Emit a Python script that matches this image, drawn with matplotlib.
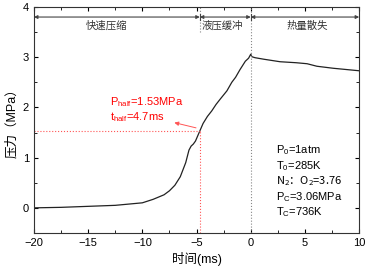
import matplotlib
matplotlib.use('Agg')
import matplotlib.pyplot as plt
from matplotlib.ticker import MultipleLocator

plt.rcParams['font.family'] = ['Liberation Sans', 'Noto Sans CJK SC', 'DejaVu Sans']
plt.rcParams['mathtext.default'] = 'regular'

# pressure trace
t = [-20, -17.5, -15, -12.5, -12, -10, -9, -8, -7.5, -7, -6.5, -6, -5.7, -5.5,
     -5.3, -5.1, -4.7, -4.4, -4.0, -3.6, -3.2, -2.8, -2.5, -2.2, -1.75, -1.4,
     -1.0, -0.5, -0.2, 0, 0.1, 0.4, 1.2, 2.7, 4.2, 5.2, 6.1, 7.6, 10]
p = [0, 0.01, 0.03, 0.05, 0.06, 0.1, 0.17, 0.26, 0.34, 0.45, 0.62, 0.9, 1.15, 1.23,
     1.27, 1.33, 1.53, 1.68, 1.82, 1.93, 2.06, 2.17, 2.25, 2.33, 2.5, 2.6,
     2.75, 2.92, 2.98, 3.06, 3.01, 2.99, 2.96, 2.91, 2.89, 2.87, 2.82, 2.78, 2.73]

t_half = -4.7
p_half = 1.53
stage_edges = [-20, -4.7, 0, 10]
stage_names = ['快速压缩', '液压缓冲', '热量散失']
stage_text_x = [-13.3, -2.6, 5.2]
cond_lines = ['P$_0$=1atm', 'T$_0$=285K', 'N$_2$：O$_2$=3.76', 'P$_C$=3.06MPa', 'T$_C$=736K']

fig = plt.figure(figsize=(3.65, 2.69), dpi=100)
ax = fig.add_axes([0.093, 0.134, 0.891, 0.84])

ax.plot(t, p, color='#222222', lw=0.9)

# half-pressure guides
ax.plot([-20, t_half], [p_half, p_half], color='#ff5555', ls=':', lw=0.8)
ax.plot([t_half, t_half], [-0.5, p_half], color='#ff5555', ls=':', lw=0.8)
ax.annotate('', xy=(-7.3, 1.71), xytext=(t_half - 0.1, p_half + 0.05),
            arrowprops=dict(arrowstyle='-|>', color='#ff5555', lw=0.7,
                            mutation_scale=6))
ax.text(-13.0, 2.1, 'P$_{half}$=1.53MPa', color='red', fontsize=8, va='center')
ax.text(-13.0, 1.8, 't$_{half}$=4.7ms', color='red', fontsize=8, va='center')

# stage markers
ax.plot([0, 0], [-0.5, 4], color='#888888', ls=':', lw=0.8)
ax.plot([t_half, t_half], [3.5, 4], color='#888888', ls=':', lw=0.8)
for i in range(3):
    ax.annotate('', xy=(stage_edges[i], 3.8), xytext=(stage_edges[i + 1], 3.8),
                arrowprops=dict(arrowstyle='<|-|>', color='#444444', lw=0.8,
                                mutation_scale=5, shrinkA=0, shrinkB=0))
    ax.text(stage_text_x[i], 3.62, stage_names[i], fontsize=7.5, color='#333333',
            ha='center', va='center', family=['Noto Sans CJK SC'])
for x in stage_edges[1:-1]:
    ax.plot([x, x], [3.74, 3.86], color='#444444', lw=0.8)

for i, s in enumerate(cond_lines):
    fam = ['Noto Sans CJK SC'] if '：' in s else ['Liberation Sans']
    ax.text(2.35, 1.15 - 0.31 * i, s, fontsize=8, va='center', family=fam)

ax.set_xlim(-20, 10)
ax.set_ylim(-0.5, 4)
ax.xaxis.set_major_locator(MultipleLocator(5))
ax.xaxis.set_minor_locator(MultipleLocator(2.5))
ax.yaxis.set_major_locator(MultipleLocator(1))
ax.yaxis.set_minor_locator(MultipleLocator(0.5))
ax.tick_params(which='both', direction='in', top=True, right=True, labelsize=8)
ax.tick_params(which='major', length=3)
ax.tick_params(which='minor', length=2)
for sp in ax.spines.values():
    sp.set_color('#333333')
    sp.set_linewidth(0.8)

ax.set_xlabel('时间(ms)', fontsize=9, labelpad=3)
ax.set_ylabel('压力（MPa）', fontsize=9, labelpad=3)

fig.savefig('out.png', dpi=100)
